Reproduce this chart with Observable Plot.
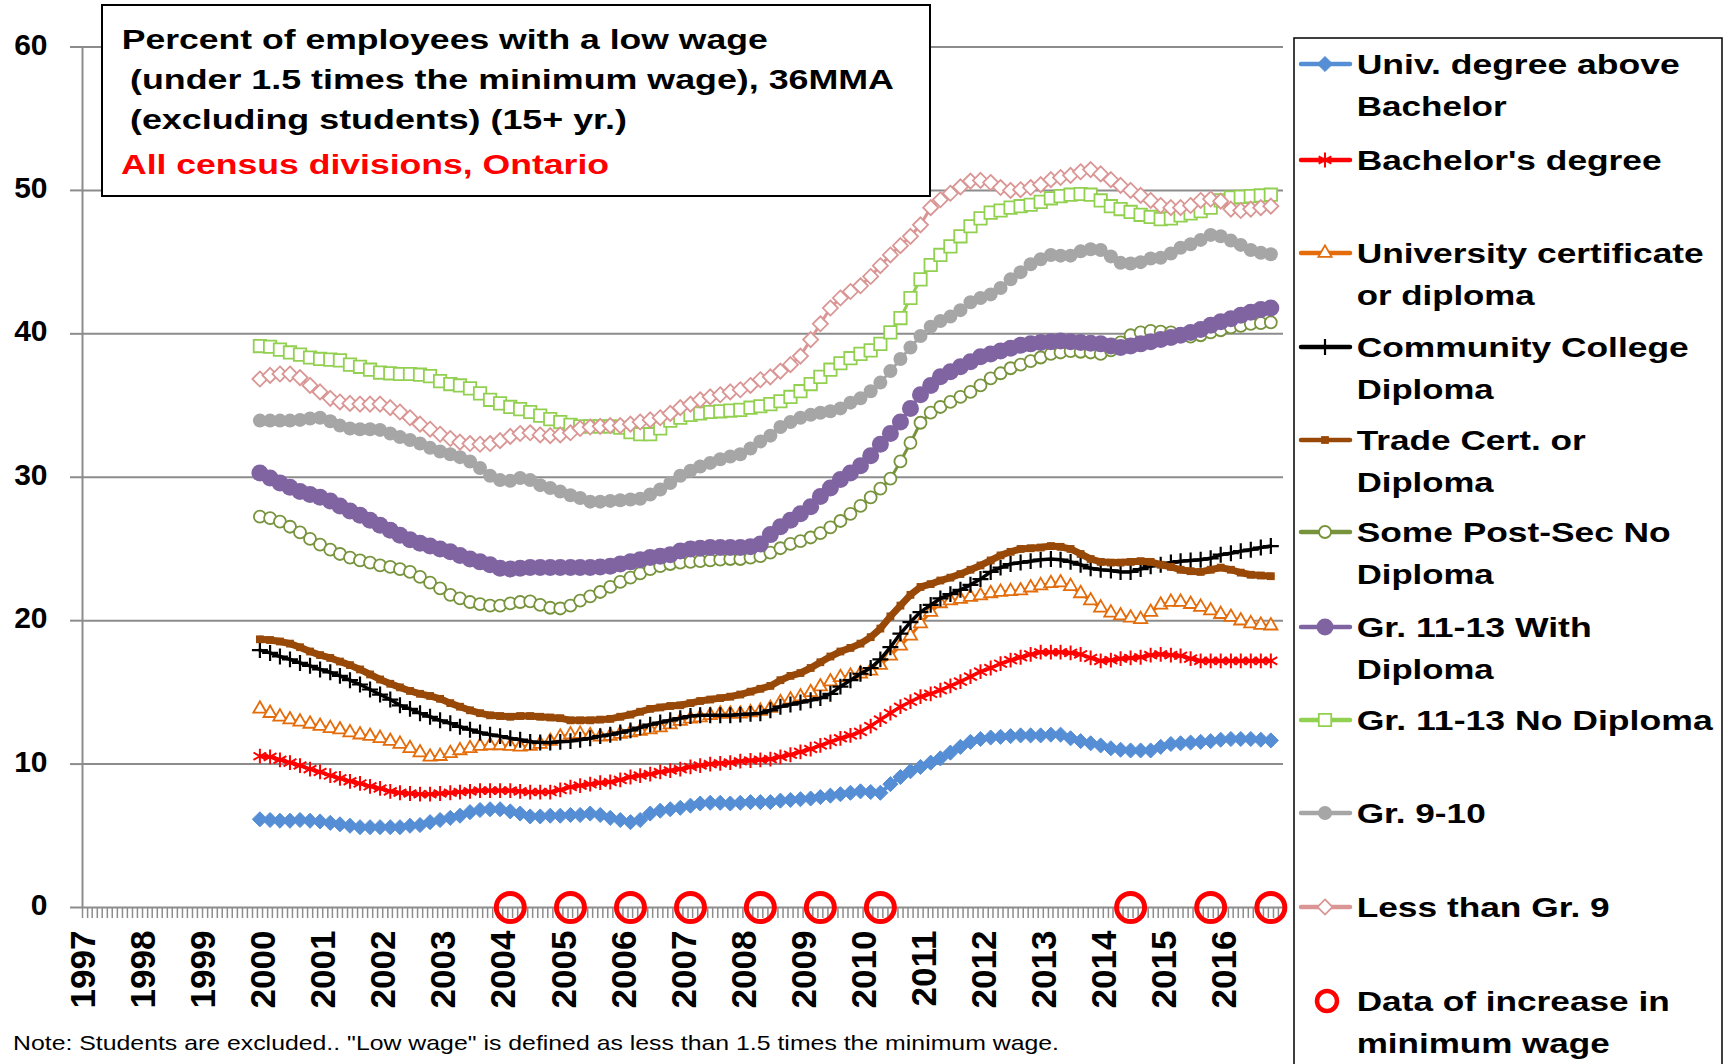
<!DOCTYPE html>
<html><head><meta charset="utf-8">
<script src="https://cdn.jsdelivr.net/npm/d3@7"></script>
<script src="https://cdn.jsdelivr.net/npm/@observablehq/plot@0.6"></script>
<style>
html,body{margin:0;padding:0;background:#fff;}
#wrap{position:relative;width:1729px;height:1064px;overflow:hidden;font-family:"Liberation Sans",Arial,sans-serif;}
#chart,#overlay{position:absolute;left:0;top:0;}
</style></head><body>
<div id="wrap"><div id="chart"></div><svg id="overlay" width="1729" height="1064"></svg></div>
<script>
// ---------- data (bimonthly readings, Dec 1999 .. Oct 2016) ----------
const firstMonth = [1999, 12];
const pointCount = 102;
const yearLabels = ["1997","1998","1999","2000","2001","2002","2003","2004","2005","2006","2007","2008","2009","2010","2011","2012","2013","2014","2015","2016"];
const yTickValues = [0,10,20,30,40,50,60];
const minWageIncreases = ["2004-02","2005-02","2006-02","2007-02","2008-04","2009-04","2010-04","2014-06","2015-10","2016-10"];

const seriesNames = ["Univ. degree above Bachelor","Bachelor's degree","University certificate or diploma","Community College Diploma","Trade Cert. or Diploma","Some Post-Sec No Diploma","Gr. 11-13 With Diploma","Gr. 11-13 No Diploma","Gr. 9-10","Less than Gr. 9"];

const univAboveBachelor = [6.15,6.1,6.05,6.05,6.1,6.05,6.0,5.9,5.8,5.7,5.6,5.6,5.6,5.6,5.6,5.7,5.75,5.95,6.1,6.25,6.4,6.65,6.8,6.85,6.85,6.7,6.55,6.35,6.35,6.4,6.4,6.45,6.45,6.55,6.45,6.25,6.1,5.95,6.1,6.55,6.75,6.85,6.95,7.1,7.25,7.3,7.3,7.25,7.3,7.35,7.35,
7.35,7.45,7.5,7.55,7.6,7.7,7.8,7.9,8.0,8.1,8.05,8.0,8.6,9.1,9.5,9.8,10.1,10.4,10.8,11.2,11.55,11.75,11.85,11.9,11.95,12.0,12.0,12.0,12.05,12.05,11.8,11.6,11.45,11.3,11.1,11.0,10.95,10.95,10.95,11.2,11.4,11.45,11.5,11.55,11.6,11.7,11.75,11.75,11.75,11.7,11.65];
const bachelors = [10.55,10.5,10.3,10.1,9.9,9.65,9.45,9.2,9.0,8.8,8.65,8.45,8.3,8.1,8.0,7.95,7.9,7.9,7.95,8.0,8.05,8.1,8.15,8.15,8.15,8.15,8.1,8.05,8.05,8.05,8.2,8.4,8.5,8.6,8.7,8.75,8.9,9.1,9.2,9.3,9.45,9.55,9.65,9.8,9.9,10.0,10.05,10.1,10.2,10.25,10.3,
10.35,10.5,10.65,10.85,11.05,11.3,11.55,11.8,12.0,12.25,12.65,13.1,13.55,14.0,14.35,14.7,14.9,15.15,15.45,15.75,16.1,16.45,16.7,17.0,17.25,17.45,17.65,17.8,17.8,17.8,17.75,17.65,17.4,17.2,17.25,17.35,17.4,17.45,17.6,17.65,17.6,17.55,17.35,17.2,17.2,17.2,17.2,17.2,17.2,17.2,17.2];
const univCertificate = [13.85,13.55,13.3,13.1,12.95,12.8,12.65,12.5,12.4,12.2,12.05,11.95,11.8,11.6,11.4,11.1,10.8,10.5,10.55,10.75,10.95,11.1,11.25,11.3,11.3,11.25,11.2,11.25,11.4,11.6,11.9,12.05,12.1,12.0,11.9,11.95,12.1,12.2,12.3,12.4,12.55,12.75,13.0,13.15,13.25,13.4,13.5,13.5,13.5,13.6,13.7,
13.9,14.3,14.5,14.7,15.0,15.4,15.75,16.05,16.15,16.3,16.5,16.9,17.55,18.25,18.95,19.8,20.6,21.2,21.4,21.5,21.65,21.75,21.9,22.0,22.05,22.1,22.3,22.45,22.6,22.65,22.4,21.9,21.4,20.9,20.55,20.35,20.2,20.1,20.6,21.1,21.3,21.3,21.15,20.95,20.7,20.45,20.25,20.0,19.8,19.7,19.65];
const communityCollege = [17.95,17.75,17.5,17.3,17.05,16.85,16.6,16.4,16.15,15.85,15.55,15.2,14.85,14.5,14.1,13.85,13.55,13.3,13.05,12.85,12.6,12.4,12.2,12.05,11.95,11.8,11.7,11.55,11.5,11.5,11.55,11.6,11.7,11.8,11.95,12.05,12.2,12.35,12.55,12.75,12.9,13.05,13.2,13.35,13.4,13.4,13.4,13.4,13.45,13.5,13.55,
13.75,14.0,14.15,14.3,14.45,14.6,14.9,15.4,15.85,16.3,16.7,17.3,18.15,19.1,19.9,20.6,21.1,21.55,21.85,22.15,22.5,22.9,23.4,23.7,23.95,24.05,24.15,24.25,24.3,24.25,24.1,23.9,23.65,23.55,23.5,23.4,23.4,23.6,23.8,23.9,24.05,24.15,24.2,24.25,24.35,24.6,24.7,24.85,24.95,25.1,25.2];
const tradeCert = [18.7,18.65,18.55,18.4,18.15,17.85,17.6,17.4,17.15,16.9,16.6,16.25,15.9,15.6,15.35,15.1,14.9,14.75,14.55,14.25,14.0,13.75,13.55,13.4,13.35,13.3,13.35,13.35,13.3,13.25,13.2,13.05,13.05,13.05,13.1,13.15,13.3,13.45,13.65,13.85,13.95,14.05,14.1,14.25,14.4,14.5,14.6,14.7,14.85,15.05,15.25,
15.45,15.85,16.15,16.35,16.7,17.1,17.5,17.85,18.1,18.4,18.85,19.45,20.3,21.05,21.8,22.35,22.55,22.8,23.0,23.25,23.55,23.85,24.2,24.55,24.8,25.0,25.05,25.1,25.2,25.15,25.0,24.65,24.3,24.1,24.05,24.05,24.1,24.15,24.1,23.9,23.75,23.55,23.45,23.4,23.55,23.7,23.55,23.35,23.2,23.15,23.1];
const somePostSec = [27.25,27.15,26.9,26.55,26.15,25.7,25.3,24.95,24.65,24.4,24.2,24.05,23.85,23.75,23.6,23.4,23.05,22.65,22.25,21.8,21.55,21.3,21.15,21.05,21.05,21.2,21.3,21.35,21.1,20.9,20.85,21.05,21.4,21.7,22.0,22.35,22.7,23.0,23.3,23.6,23.8,23.95,24.05,24.1,24.15,24.2,24.25,24.3,24.3,24.4,24.5,
24.75,25.05,25.35,25.55,25.8,26.1,26.5,26.95,27.45,28.0,28.6,29.2,29.9,31.1,32.4,33.8,34.5,34.9,35.25,35.6,35.95,36.4,36.9,37.25,37.6,37.85,38.1,38.35,38.6,38.7,38.8,38.75,38.7,38.6,38.85,39.4,39.9,40.1,40.2,40.15,40.1,39.95,39.8,39.9,40.1,40.25,40.45,40.55,40.7,40.75,40.8];
const gr1113WithDiploma = [30.3,29.95,29.6,29.3,29.0,28.8,28.6,28.35,28.0,27.65,27.35,27.0,26.65,26.3,25.95,25.65,25.4,25.2,25.0,24.8,24.55,24.3,24.1,23.9,23.65,23.6,23.65,23.7,23.7,23.7,23.7,23.7,23.7,23.7,23.75,23.8,23.95,24.1,24.25,24.4,24.5,24.6,24.85,25.0,25.05,25.1,25.1,25.1,25.1,25.15,25.35,
26.0,26.55,27.0,27.45,27.95,28.65,29.25,29.85,30.3,30.8,31.5,32.3,33.05,33.85,34.8,35.75,36.4,37.0,37.35,37.7,38.05,38.4,38.6,38.8,39.0,39.2,39.3,39.4,39.45,39.5,39.45,39.4,39.35,39.3,39.15,39.05,39.15,39.3,39.45,39.6,39.75,39.9,40.1,40.3,40.6,40.85,41.05,41.3,41.5,41.7,41.8];
const gr1113NoDiploma = [39.15,39.1,38.9,38.7,38.55,38.35,38.25,38.2,38.15,37.85,37.7,37.5,37.3,37.25,37.2,37.2,37.15,37.05,36.7,36.5,36.4,36.2,35.85,35.4,35.15,34.9,34.75,34.55,34.3,34.05,33.85,33.65,33.55,33.55,33.55,33.55,33.45,33.15,33.0,33.0,33.4,33.95,34.15,34.35,34.45,34.55,34.6,34.65,34.7,34.85,34.95,
35.1,35.3,35.6,36.0,36.5,37.0,37.5,37.95,38.3,38.6,38.85,39.3,40.1,41.1,42.5,43.8,44.8,45.5,46.1,46.8,47.5,48.05,48.45,48.6,48.8,48.9,49.0,49.2,49.45,49.6,49.7,49.75,49.7,49.3,48.9,48.7,48.5,48.3,48.15,48.0,48.05,48.25,48.4,48.55,48.8,49.3,49.5,49.55,49.6,49.65,49.7];
const gr910 = [33.95,33.95,33.95,33.95,34.0,34.1,34.15,33.9,33.6,33.4,33.35,33.35,33.3,33.05,32.8,32.6,32.35,32.05,31.8,31.6,31.4,31.1,30.65,30.1,29.8,29.75,29.95,29.8,29.45,29.25,29.0,28.75,28.55,28.3,28.3,28.35,28.4,28.45,28.5,28.8,29.15,29.6,30.1,30.45,30.75,31.0,31.25,31.45,31.6,32.0,32.5,
32.9,33.5,33.85,34.15,34.35,34.5,34.6,34.8,35.2,35.5,36.0,36.6,37.4,38.25,39.05,39.85,40.5,40.9,41.2,41.65,42.2,42.5,42.75,43.2,43.8,44.3,44.85,45.2,45.5,45.45,45.45,45.75,45.9,45.85,45.4,44.95,44.9,45.0,45.25,45.3,45.6,46.0,46.25,46.55,46.9,46.8,46.5,46.2,45.85,45.65,45.55];
const lessThanGr9 = [36.85,37.1,37.2,37.2,36.95,36.4,35.95,35.5,35.25,35.15,35.1,35.1,35.1,34.85,34.55,34.15,33.7,33.35,33.0,32.7,32.45,32.35,32.3,32.35,32.55,32.85,33.05,33.1,32.95,32.9,32.95,33.1,33.4,33.5,33.55,33.6,33.6,33.7,33.85,34.0,34.15,34.45,34.85,35.1,35.4,35.6,35.75,35.95,36.1,36.4,36.8,
37.0,37.4,37.85,38.45,39.6,40.7,41.8,42.5,42.95,43.35,44.0,44.75,45.5,46.15,46.8,47.6,48.8,49.35,49.8,50.25,50.65,50.7,50.55,50.2,50.0,50.05,50.2,50.4,50.75,50.9,51.05,51.3,51.45,51.15,50.75,50.35,50.0,49.65,49.3,48.95,48.8,48.8,48.95,49.3,49.4,49.25,48.7,48.6,48.7,48.8,48.9];

const seriesValues = [univAboveBachelor, bachelors, univCertificate, communityCollege, tradeCert, somePostSec, gr1113WithDiploma, gr1113NoDiploma, gr910, lessThanGr9];

// ---------- styles ----------
const seriesStyles = [
  {color:"#558ED5", symbol:"diamond2", r:6.8, fill:"#558ED5", stroke:"#558ED5", sw:1, lw:4},
  {color:"#FF0000", symbol:"asterisk", r:7, fill:"none", stroke:"#FF0000", sw:2, lw:3.5},
  {color:"#E46C0A", symbol:"triangle2", r:6.3, fill:"white", stroke:"#E46C0A", sw:1.8, lw:3},
  {color:"#000000", symbol:"plus", r:5.2, fill:"none", stroke:"#000000", sw:2.2, lw:3.5},
  {color:"#984807", symbol:"square", r:4.4, fill:"#984807", stroke:"none", lw:7},
  {color:"#77933C", symbol:"circle", r:6, fill:"white", stroke:"#77933C", sw:1.8, lw:3},
  {color:"#8064A2", symbol:"circle", r:8.5, fill:"#8064A2", stroke:"none", lw:3},
  {color:"#92D050", symbol:"square", r:7, fill:"white", stroke:"#92D050", sw:1.8, lw:3},
  {color:"#A6A6A6", symbol:"circle", r:7, fill:"#A6A6A6", stroke:"none", lw:3},
  {color:"#D99694", symbol:"diamond2", r:6.8, fill:"white", stroke:"#D99694", sw:1.8, lw:3}
];

seriesValues.forEach((a, i) => { if (a.length !== pointCount) throw new Error(seriesNames[i] + " has " + a.length + " values"); });

const months = d3.range(pointCount).map(k => new Date(Date.UTC(firstMonth[0], firstMonth[1] - 1 + 2 * k, 16)));
const parseYM = s => { const [y, m] = s.split("-").map(Number); return new Date(Date.UTC(y, m - 1, 16)); };
const X0 = new Date(Date.UTC(+yearLabels[0], 0, 1));
const X1 = new Date(Date.UTC(+yearLabels[yearLabels.length - 1] + 1, 0, 1));
const monthTicks = d3.utcMonth.range(X0, new Date(X1.getTime() + 86400000));
const yearDates = yearLabels.map(y => new Date(Date.UTC(+y, 0, 1)));

const gray = "#8c8c8c";
const FONT = '"Liberation Sans", Arial, sans-serif';

const marks = [
  Plot.ruleY(yTickValues.filter(d => d > 0), {stroke: gray, strokeWidth: 2}),
  Plot.axisY({ticks: yTickValues, tickSize: 12, tickFormat: () => "", label: null, stroke: gray, strokeWidth: 2}),
  Plot.axisY({ticks: yTickValues, tickSize: 0, tickPadding: 35, dy: -2, label: null, fontSize: 30, fontWeight: "bold", fill: "#000"}),
  Plot.axisX({ticks: monthTicks, tickSize: 11, tickFormat: () => "", label: null, stroke: gray, strokeWidth: 1.5}),
  Plot.ruleX([X0], {stroke: gray, strokeWidth: 2}),
  Plot.ruleY([0], {stroke: gray, strokeWidth: 2}),
  Plot.text(yearDates, {x: d => d, text: (d, i) => yearLabels[i], frameAnchor: "bottom", dy: 23, dx: 1.5, rotate: -90, textAnchor: "end", lineAnchor: "middle", fontSize: 35, fontWeight: "bold", fill: "#000"})
];

seriesNames.forEach((name, s) => {
  const st = seriesStyles[s];
  const rows = seriesValues[s].map((v, i) => ({date: months[i], value: v}));
  marks.push(Plot.line(rows, {x: "date", y: "value", stroke: st.color, strokeWidth: st.lw}));
  marks.push(Plot.dot(rows, {x: "date", y: "value", symbol: st.symbol, r: st.r, fill: st.fill, stroke: st.stroke, strokeWidth: st.sw || 1}));
});

marks.push(Plot.dot(minWageIncreases.map(parseYM), {x: d => d, y: 0, r: 14, fill: "none", stroke: "#FF0000", strokeWidth: 5}));

const chart = Plot.plot({
  width: 1729, height: 1064,
  marginLeft: 82, marginRight: 446, marginTop: 46.5, marginBottom: 157,
  x: {type: "utc", domain: [X0, X1], label: null},
  y: {domain: [0, 60], label: null},
  style: {fontFamily: FONT, overflow: "visible", background: "transparent", color: "#000"},
  marks
});
document.getElementById("chart").appendChild(chart);

// ---------- overlay: title box, legend, note ----------
const ov = d3.select("#overlay").style("font-family", FONT);

ov.append("rect").attr("x", 102).attr("y", 5).attr("width", 828).attr("height", 191)
  .attr("fill", "#fff").attr("stroke", "#000").attr("stroke-width", 2);
const titleLines = [
  {t: "Percent of employees with a low wage", x: 121.7, y: 49, w: 646, size: 27, color: "#000"},
  {t: "(under 1.5 times the minimum wage), 36MMA", x: 130, y: 89, w: 764, size: 27, color: "#000"},
  {t: "(excluding students) (15+ yr.)", x: 130, y: 129, w: 497, size: 27, color: "#000"},
  {t: "All census divisions, Ontario", x: 121, y: 174, w: 488, size: 28, color: "#FF0000"}
];
titleLines.forEach(l => ov.append("text").attr("x", l.x).attr("y", l.y).attr("font-size", l.size)
  .attr("font-weight", "bold").attr("fill", l.color).attr("textLength", l.w)
  .attr("lengthAdjust", "spacingAndGlyphs").text(l.t));

ov.append("rect").attr("x", 1294).attr("y", 38).attr("width", 428).attr("height", 1060)
  .attr("fill", "#fff").attr("stroke", "#000").attr("stroke-width", 1.5);

const legendLines = [
  [["Univ. degree above", 323], ["Bachelor", 150]],
  [["Bachelor's degree", 305]],
  [["University certificate", 347], ["or diploma", 178]],
  [["Community College", 332], ["Diploma", 137]],
  [["Trade Cert. or", 229], ["Diploma", 137]],
  [["Some Post-Sec No", 314], ["Diploma", 137]],
  [["Gr. 11-13 With", 235], ["Diploma", 137]],
  [["Gr. 11-13 No Diploma", 356]],
  [["Gr. 9-10", 129]],
  [["Less than Gr. 9", 253]],
  [["Data of increase in", 313], ["minimum wage", 253]]
];
const legendY = [64, 160, 253, 347, 440, 532, 627, 720, 813, 907, 1001];
const symMap = {diamond2: d3.symbolDiamond2, asterisk: d3.symbolAsterisk, triangle2: d3.symbolTriangle2, plus: d3.symbolPlus, square: d3.symbolSquare, circle: d3.symbolCircle};

legendLines.forEach((lines, i) => {
  const cy = legendY[i];
  if (i < seriesStyles.length) {
    const st = seriesStyles[i];
    ov.append("line").attr("x1", 1301).attr("x2", 1350).attr("y1", cy).attr("y2", cy)
      .attr("stroke", st.color).attr("stroke-width", 4.5).attr("stroke-linecap", "round");
    ov.append("path").attr("transform", `translate(1325,${cy})`)
      .attr("d", d3.symbol(symMap[st.symbol], Math.PI * st.r * st.r)())
      .attr("fill", st.fill).attr("stroke", st.stroke).attr("stroke-width", st.sw || 1);
  } else {
    ov.append("circle").attr("cx", 1327).attr("cy", cy).attr("r", 10)
      .attr("fill", "none").attr("stroke", "#FF0000").attr("stroke-width", 4.5);
  }
  lines.forEach(([t, w], j) => ov.append("text").attr("x", 1356.7).attr("y", cy + 10 + j * 41.5)
    .attr("font-size", 28).attr("font-weight", "bold").attr("fill", "#000")
    .attr("textLength", w).attr("lengthAdjust", "spacingAndGlyphs").text(t));
});

ov.append("text").attr("x", 13).attr("y", 1050).attr("font-size", 21).attr("fill", "#000")
  .attr("textLength", 1046).attr("lengthAdjust", "spacingAndGlyphs")
  .text('Note: Students are excluded.. "Low wage" is defined as less than 1.5 times the minimum wage.');
</script>
</body></html>
